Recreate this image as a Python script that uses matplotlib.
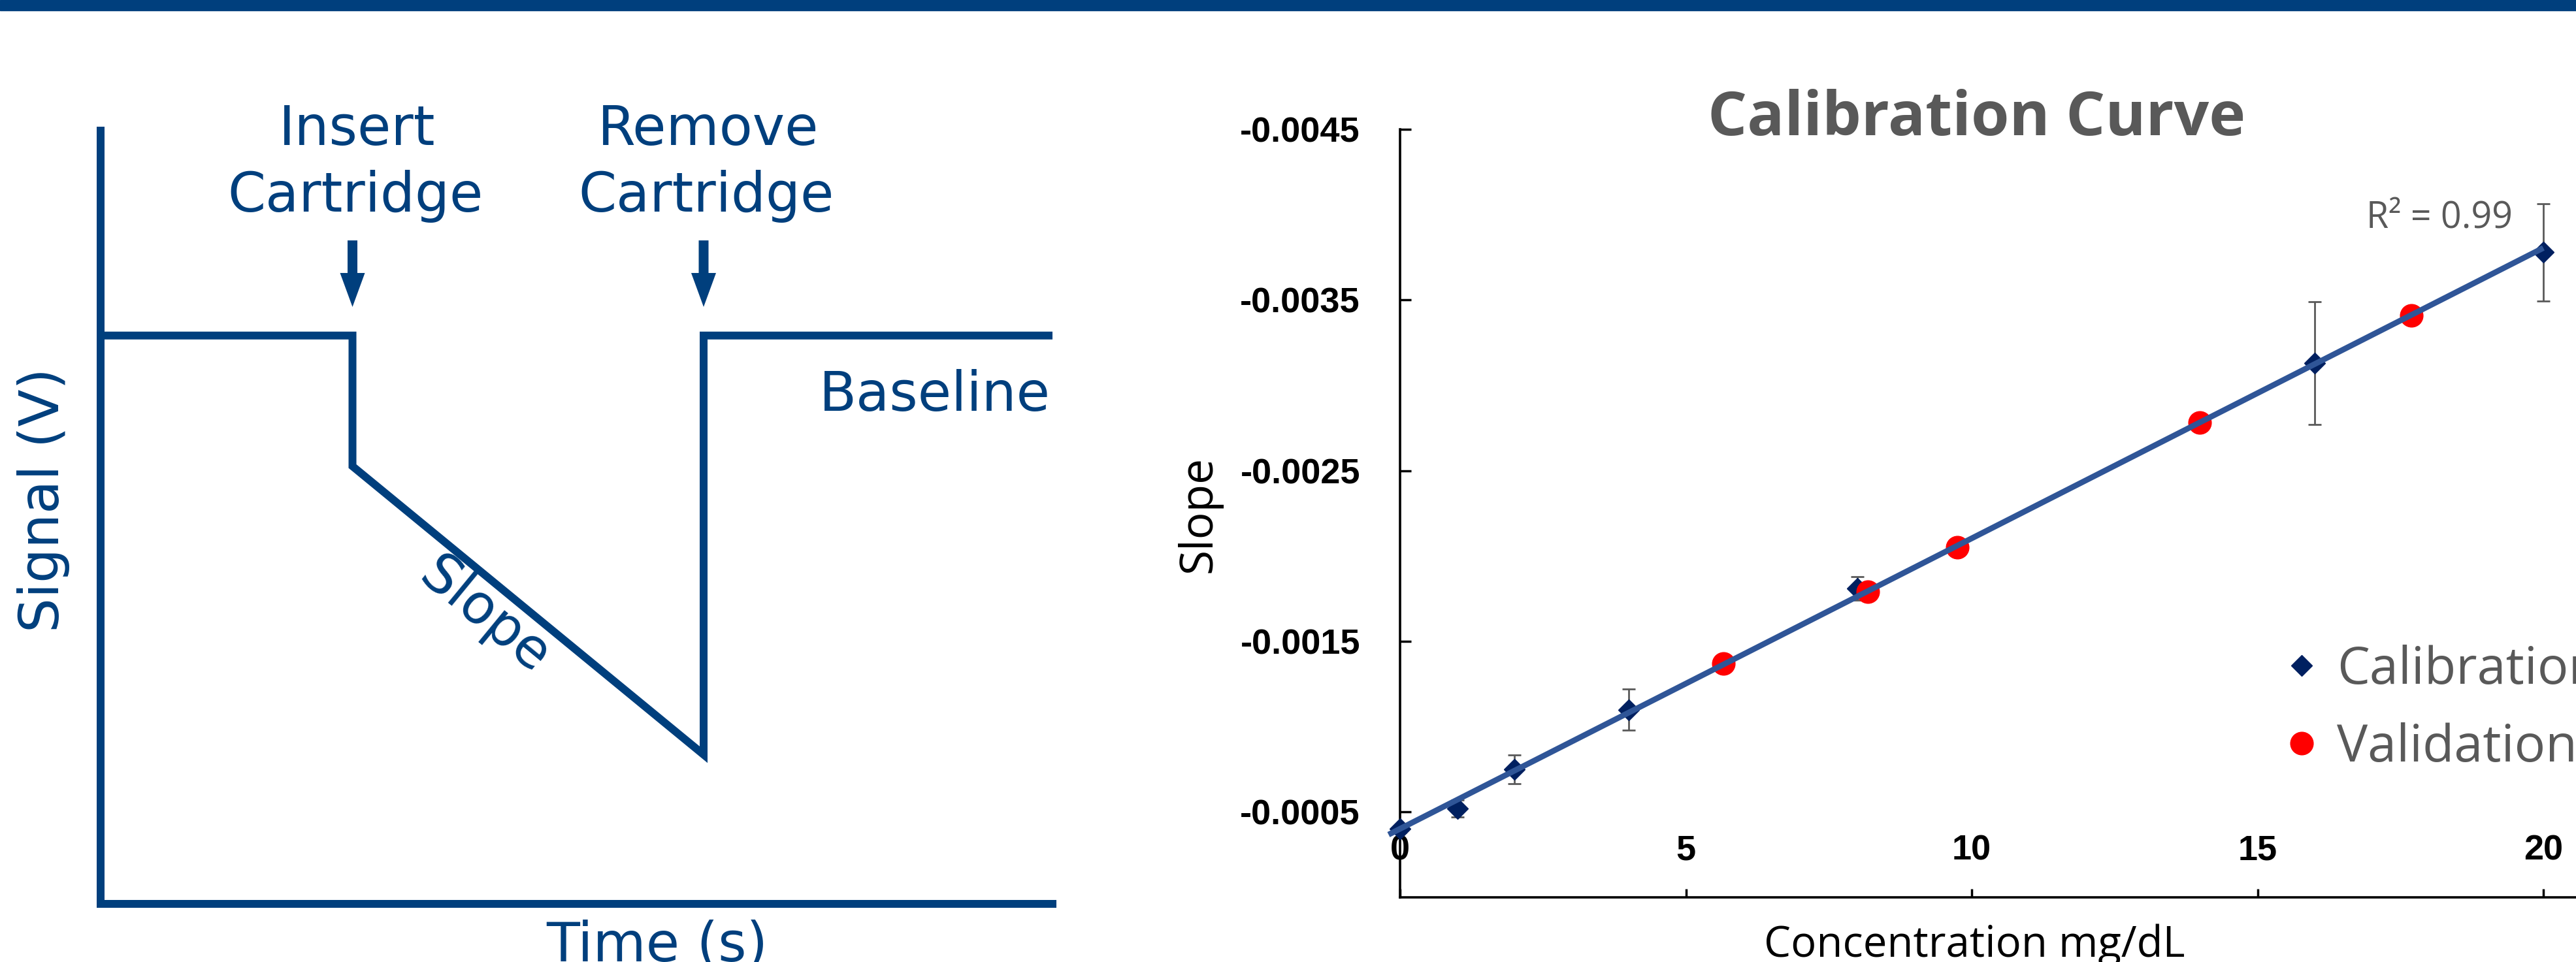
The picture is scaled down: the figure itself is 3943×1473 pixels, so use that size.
import numpy as np
import matplotlib
matplotlib.use("Agg")
import matplotlib.pyplot as plt
from matplotlib.lines import Line2D
from matplotlib.patches import Rectangle

# ---------------- data ----------------
# schematic signal trace (arbitrary units)
trace_time = [0, 26.46, 26.46, 63.35, 63.35, 100]
trace_signal = [73.5, 73.5, 56.6, 19.3, 73.5, 73.5]
event_times = [26.46, 63.35]
event_labels = [("Insert", "Cartridge"), ("Remove", "Cartridge")]

# calibration curve
cal_conc = [0, 1, 2, 4, 8, 16, 20]
cal_slope = [-0.00040, -0.00052, -0.00075, -0.00110, -0.00181, -0.00313, -0.00378]
cal_err = [0.00002, 0.00005, 0.000084, 0.00012, 0.00007, 0.00036, 0.000285]
val_conc = [5.66, 8.18, 9.75, 13.99, 17.69]
val_slope = [-0.00137, -0.00179, -0.00205, -0.00278, -0.00341]
y_ticks = [-0.0005, -0.0015, -0.0025, -0.0035, -0.0045]
y_ticklabels = ["-0.0005", "-0.0015", "-0.0025", "-0.0035", "-0.0045"]
x_ticks = [0, 5, 10, 15, 20]
x_ticklabels = ["0", "5", "10", "15", "20"]

# ---------------- style ----------------
W, H = 3943, 1473
DPI = 100
BLUE = "#003F7D"
GRAY = "#595959"
NAVY = "#002060"
TREND = "#2F5597"

fig = plt.figure(figsize=(W / DPI, H / DPI), dpi=DPI)
fig.patches.append(Rectangle((0, 1 - 16 / H), 1, 16 / H, transform=fig.transFigure,
                             color=BLUE, zorder=10))


def fx(px):
    return px / W


def fy(py):
    return 1 - py / H


# ---------------- left schematic ----------------
L_x0, L_x1, L_top, L_bot = 154, 1611, 200, 1384
axL = fig.add_axes([fx(L_x0), fy(L_bot), (L_x1 - L_x0) / W, (L_bot - L_top) / H])
axL.set_xlim(0, 100)
axL.set_ylim(0, 100)
lw_px = 12
for s in ["top", "right"]:
    axL.spines[s].set_visible(False)
for s in ["left", "bottom"]:
    axL.spines[s].set_color(BLUE)
    axL.spines[s].set_linewidth(lw_px * 72 / DPI)
    axL.spines[s].set_capstyle("projecting")
axL.set_xticks([])
axL.set_yticks([])
axL.patch.set_alpha(0)

axL.plot(trace_time, trace_signal, color=BLUE, lw=lw_px * 72 / DPI,
         solid_joinstyle="miter", solid_capstyle="butt", clip_on=False)

fsL = 60
for t, (l1, l2) in zip(event_times, event_labels):
    axL.text(t + 0.5, 98.1, l1, ha="center", va="baseline", fontsize=fsL,
             color=BLUE, family="DejaVu Sans")
    axL.text(t + 0.3, 89.5, l2, ha="center", va="baseline", fontsize=fsL,
             color=BLUE, family="DejaVu Sans")
    axL.arrow(t, 85.8, 0, -8.6, width=1.03, head_width=2.61, head_length=4.39,
              length_includes_head=True, color=BLUE, lw=0, clip_on=False)

axL.text(99.8, 63.8, "Baseline", ha="right", va="baseline", fontsize=fsL,
         color=BLUE, family="DejaVu Sans")
axL.text(40.3, 37.2, "Slope", ha="center", va="center", rotation=-39.4,
         rotation_mode="anchor", fontsize=fsL, color=BLUE, family="DejaVu Sans")

axL.set_xlabel("Time (s)", fontsize=fsL, color=BLUE, family="DejaVu Sans", va="baseline")
axL.xaxis.set_label_coords((1006 - L_x0) / (L_x1 - L_x0), (L_bot - 1472) / (L_bot - L_top))
axL.set_ylabel("Signal (V)", fontsize=fsL, color=BLUE, family="DejaVu Sans", va="center")
axL.yaxis.set_label_coords((67 - L_x0) / (L_x1 - L_x0), (L_bot - 765) / (L_bot - L_top))

# ---------------- right calibration curve ----------------
R_x0, R_x1, R_top, R_bot = 2143, 4100, 198, 1374
px_per_unit = 87.5
axR = fig.add_axes([fx(R_x0), fy(R_bot), (R_x1 - R_x0) / W, (R_bot - R_top) / H])
axR.set_xlim(0, (R_x1 - R_x0) / px_per_unit)
axR.set_ylim(0, -0.0045)
axR.patch.set_alpha(0)
for s in ["top", "right"]:
    axR.spines[s].set_visible(False)
for s in ["left", "bottom"]:
    axR.spines[s].set_color("black")
    axR.spines[s].set_linewidth(2.6)

axR.set_yticks(y_ticks)
axR.set_yticklabels(y_ticklabels)
axR.set_xticks(x_ticks)
axR.set_xticklabels(x_ticklabels)
axR.tick_params(axis="y", direction="in", length=12.5, width=2.5, pad=44, colors="black")
axR.tick_params(axis="x", direction="in", length=9.5, width=2.5, pad=-69.5, colors="black")
for lab in axR.get_yticklabels() + axR.get_xticklabels():
    lab.set_fontfamily("Liberation Sans")
    lab.set_fontweight("bold")
    lab.set_fontsize(39)

axR.errorbar(cal_conc, cal_slope, yerr=cal_err, fmt="D", color=NAVY, ms=16,
             ecolor="#5A5A5A", elinewidth=2.0, capsize=7, capthick=2.0,
             zorder=3, clip_on=False)
axR.plot(val_conc, val_slope, "o", color="#FF0000", ms=25, zorder=4)

coef = np.polyfit(cal_conc, cal_slope, 1)
xfit = np.array([-0.2, 20.0])
axR.plot(xfit, np.polyval(coef, xfit), color=TREND, lw=6.3, zorder=5,
         solid_capstyle="butt", clip_on=False)

axR.text(19.46, -0.00392, "R² = 0.99", ha="right", va="baseline", fontsize=40,
         color=GRAY, family="Open Sans")

fig.text(fx(3026), fy(207), "Calibration Curve", ha="center", va="baseline",
         fontsize=68, fontweight="bold", color=GRAY, family="Open Sans")

axR.set_xlabel("Concentration mg/dL", fontsize=47, family="Open Sans", color="black",
               va="baseline")
axR.xaxis.set_label_coords((3022 - R_x0) / (R_x1 - R_x0), (R_bot - 1465) / (R_bot - R_top))
axR.set_ylabel("Slope", fontsize=50, family="Open Sans", color="black", va="center")
axR.yaxis.set_label_coords((1836 - R_x0) / (R_x1 - R_x0), (R_bot - 787) / (R_bot - R_top))

handles = [Line2D([], [], marker="D", ls="none", color=NAVY, ms=16),
           Line2D([], [], marker="o", ls="none", color="#FF0000", ms=25)]
leg = fig.legend(handles, ["Calibration", "Validation"], loc="upper left",
                 bbox_to_anchor=(fx(3491), fy(987)), frameon=False,
                 prop={"family": "Open Sans", "size": 57}, handlelength=0.8,
                 handletextpad=0.284, labelspacing=0.5, borderpad=0,
                 borderaxespad=0)
for t in leg.get_texts():
    t.set_color(GRAY)

fig.savefig("out.png", dpi=DPI)
